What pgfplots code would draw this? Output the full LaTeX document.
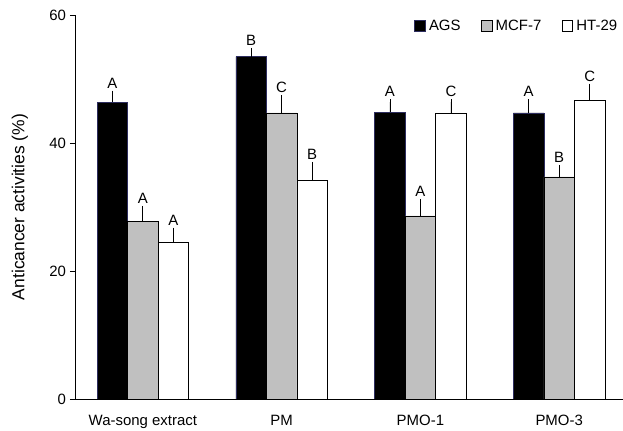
\documentclass[border=0pt]{standalone}
\usepackage{pgfplots}
\pgfplotsset{compat=1.18}
\usepackage{pgfplotstable}
\usepackage{fontspec}
\setmainfont{Liberation Sans}
\definecolor{agsedge}{RGB}{45,45,95}
\definecolor{mcf}{RGB}{192,192,192}
\pgfplotstableread{
x y e l
0 46.4 1.3 A
1 53.5 0.9 B
2 44.8 1.6 A
3 44.7 1.7 A
}\ags
\pgfplotstableread{
x y e l
0 27.7 2.0 A
1 44.7 2.3 C
2 28.6 2.2 A
3 34.7 1.4 B
}\mcfdata
\pgfplotstableread{
x y e l
0 24.5 1.8 A
1 34.2 2.4 B
2 44.7 1.7 C
3 46.6 2.2 C
}\htdata
\begin{document}
\begin{tikzpicture}
\begin{axis}[
  scale only axis,
  width=548bp, height=384bp,
  ybar=0pt, bar width=30.5bp,
  xmin=-0.489, xmax=3.46,
  ymin=0, ymax=60,
  ytick={0,20,40,60},
  xtick={0,1,2,3},
  xticklabels={Wa-song extract,PM,PMO-1,PMO-3},
  x tick style={draw=none},
  y tick style={black, line width=0.75pt},
  xtick align=inside, ytick align=outside,
  major tick length=5bp,
  axis x line*=bottom, axis y line*=left,
  axis line style={line width=0.75pt},
  /pgf/number format/assume math mode=true,
  tick label style={font=\fontsize{15}{17}\selectfont},
  yticklabel style={xshift=-0.5bp},
  xticklabel style={anchor=base, yshift=-26bp},
  ylabel={Anticancer activities (\%)},
  every axis y label/.style={at={(axis description cs:-0.1004,0.5)}, rotate=90, anchor=center, font=\fontsize{17.5}{19}\selectfont},
  legend style={draw=none, fill=none, font=\fontsize{15}{17}\selectfont,
    at={(axis description cs:0.992,0.99)}, anchor=north east, legend columns=3,
    nodes={inner sep=1.5bp},
    /tikz/every even column/.append style={column sep=19bp},
    /tikz/every odd column/.append style={column sep=2bp},
    inner sep=0pt, outer sep=0pt},
  legend image code/.code={\draw[#1, line width=0.6pt] (0bp,-4.5bp) rectangle (10.5bp,6bp);},
  error bars/y dir=plus, error bars/y explicit,
  error bars/error bar style={line width=0.75pt, black},
  error bars/error mark options={black, line width=0.75pt, mark size=3bp},
  nodes near coords,
  point meta=explicit symbolic,
  visualization depends on={\thisrow{e} \as \err},
  every node near coord/.append style={font=\fontsize{15}{17}\selectfont, anchor=south, yshift={\err*6.4bp+1.5bp}, black},
]
\addplot[fill=black, draw=agsedge, line width=0.6pt] table[x=x, y=y, y error=e, meta=l] {\ags};
\addplot[fill=mcf, draw=black, line width=0.6pt] table[x=x, y=y, y error=e, meta=l] {\mcfdata};
\addplot[fill=white, draw=black, line width=0.6pt] table[x=x, y=y, y error=e, meta=l] {\htdata};
\legend{AGS, MCF-7, HT-29}
\end{axis}
\pgfresetboundingbox
\path[use as bounding box] ([xshift=-75bp,yshift=-32bp]current axis.south west) rectangle ([yshift=15bp]current axis.north east);
\end{tikzpicture}
\end{document}
